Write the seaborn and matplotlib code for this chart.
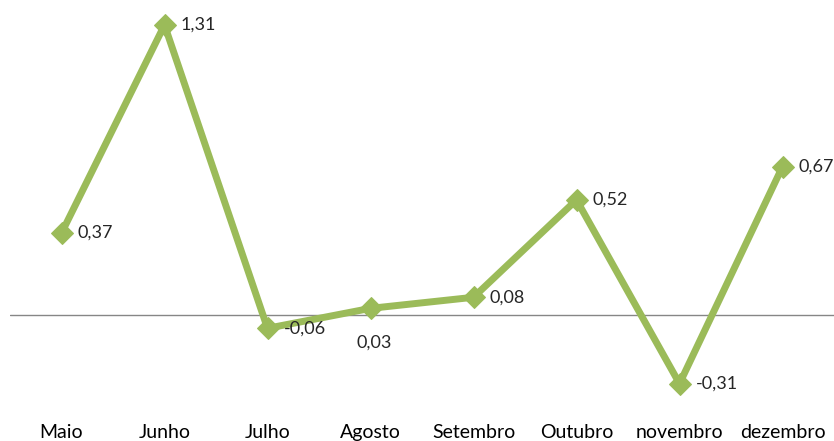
import matplotlib
matplotlib.use("Agg")
import matplotlib.pyplot as plt
import seaborn as sns
import pandas as pd

# dados
meses = ["Maio", "Junho", "Julho", "Agosto", "Setembro", "Outubro", "novembro", "dezembro"]
valores = [0.37, 1.31, -0.06, 0.03, 0.08, 0.52, -0.31, 0.67]
rotulos = ["0,37", "1,31", "-0,06", "0,03", "0,08", "0,52", "-0,31", "0,67"]

sns.set_style("white")
plt.rcParams["font.family"] = ["Lato", "DejaVu Sans"]

df = pd.DataFrame({"mes": meses, "valor": valores})

W, H = 834, 441
fig = plt.figure(figsize=(W / 100, H / 100), dpi=100)
ax = fig.add_axes([10 / W, 26 / H, 824 / W, 415 / H])

verde = "#9BBB59"
sns.lineplot(data=df, x="mes", y="valor", sort=False, ax=ax, color=verde,
             linewidth=5, marker="D", markersize=11.5, markeredgecolor=verde)

ax.axhline(0, color="#868686", linewidth=1, zorder=0)

ax.set_xlim(-0.5, len(meses) - 0.5)
ax.set_ylim(-0.4517, 1.4228)

for i, (v, r) in enumerate(zip(valores, rotulos)):
    if meses[i] == "Agosto":
        ax.annotate(r, (i, v), xytext=(3, -25), textcoords="offset points",
                    ha="center", va="center", fontsize=13, color="#262626")
    else:
        ax.annotate(r, (i, v), xytext=(11.5, 0), textcoords="offset points",
                    ha="left", va="center", fontsize=13, color="#262626")

ax.set_xlabel("")
ax.set_ylabel("")
ax.set_yticks([])
ax.tick_params(axis="x", length=0, pad=6.5, labelsize=14, labelcolor="#000000")
for s in ax.spines.values():
    s.set_visible(False)

fig.savefig("out.png", dpi=100)
